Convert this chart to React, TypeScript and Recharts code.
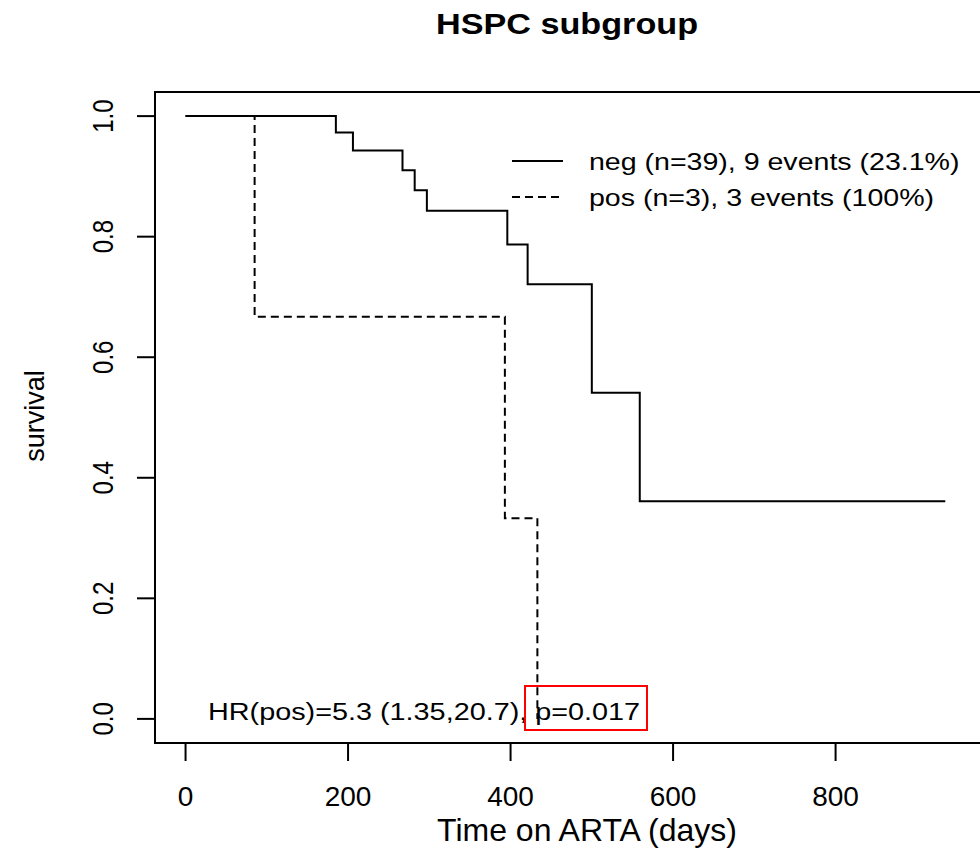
import React from "react";
import { LineChart, Line, XAxis, YAxis, ReferenceArea } from "recharts";

// Kaplan-Meier steps
const negTimes = [0, 185, 206, 267, 282, 297, 396, 421, 500, 559, 935];
const negSurv = [1, 0.973, 0.943, 0.91, 0.877, 0.843, 0.787, 0.721, 0.541, 0.361, 0.361];
const posTimes = [0, 85, 393, 433];
const posSurv = [1, 0.667, 0.333, 0];

const xTicks = [0, 200, 400, 600, 800];
const yTicks = [0, 0.2, 0.4, 0.6, 0.8, 1.0];
const legendLabels = ["neg (n=39), 9 events (23.1%)", "pos (n=3), 3 events (100%)"];
const hrText = "HR(pos)=5.3 (1.35,20.7), p=0.017";

const negData = negTimes.map((t, i) => ({ t, s: negSurv[i] }));
const posData = posTimes.map((t, i) => ({ t, s: posSurv[i] }));

const FONT = "'Liberation Sans', Arial, sans-serif";
const X_DOMAIN: [number, number] = [-37.6, 980.2];
const Y_DOMAIN: [number, number] = [-0.04, 1.04];

const XTick = (props: any) => (
  <text x={props.x} y={806} textAnchor="middle" fontSize={28} fontFamily={FONT} fill="#000">
    {props.payload.value}
  </text>
);

const YTick = (props: any) => (
  <text
    transform={`translate(113, ${props.y}) scale(1.2,1) rotate(-90)`}
    textAnchor="middle"
    fontSize={24}
    fontFamily={FONT}
    fill="#000"
  >
    {Number(props.payload.value).toFixed(1)}
  </text>
);

export default function App() {
  return (
    <div
      style={{
        position: "absolute",
        left: 0,
        top: 0,
        width: 980,
        height: 850,
        overflow: "hidden",
        background: "#fff",
      }}
    >
      <LineChart width={983} height={850} margin={{ top: 92, right: 1, bottom: 0, left: 0 }}>
        <XAxis
          type="number"
          dataKey="t"
          domain={X_DOMAIN}
          allowDataOverflow
          ticks={xTicks}
          tickSize={18}
          axisLine={false}
          tickLine={{ stroke: "#000", strokeWidth: 2 }}
          tick={XTick}
          height={107}
        />
        <YAxis
          type="number"
          dataKey="s"
          domain={Y_DOMAIN}
          allowDataOverflow
          ticks={yTicks}
          tickSize={18}
          axisLine={false}
          tickLine={{ stroke: "#000", strokeWidth: 2 }}
          tick={YTick}
          width={155}
        />
        <ReferenceArea
          x1={X_DOMAIN[0]}
          x2={X_DOMAIN[1]}
          y1={Y_DOMAIN[0]}
          y2={Y_DOMAIN[1]}
          fill="none"
          fillOpacity={0}
          stroke="#000"
          strokeWidth={2}
        />
        <Line
          data={negData}
          dataKey="s"
          type="stepAfter"
          stroke="#000"
          strokeWidth={2}
          dot={false}
          isAnimationActive={false}
        />
        <Line
          data={posData}
          dataKey="s"
          type="stepAfter"
          stroke="#000"
          strokeWidth={2}
          strokeDasharray="8 5"
          dot={false}
          isAnimationActive={false}
        />
      </LineChart>
      <svg
        width={980}
        height={850}
        style={{ position: "absolute", left: 0, top: 0, pointerEvents: "none" }}
        fontFamily={FONT}
      >
        <text
          transform="translate(567, 34) scale(1.14,1)"
          textAnchor="middle"
          fontSize={30}
          fontWeight="bold"
        >
          HSPC subgroup
        </text>
        <line x1={512} x2={563} y1={161} y2={161} stroke="#000" strokeWidth={2} />
        <line x1={512} x2={563} y1={197} y2={197} stroke="#000" strokeWidth={2} strokeDasharray="8 5" />
        <text transform="translate(589, 169.5) scale(1.19,1)" fontSize={24}>
          {legendLabels[0]}
        </text>
        <text transform="translate(589, 205.5) scale(1.19,1)" fontSize={24}>
          {legendLabels[1]}
        </text>
        <text transform="translate(208, 720) scale(1.2,1)" fontSize={24}>
          {hrText}
        </text>
        <rect x={525} y={686} width={122} height={44} fill="none" stroke="#ff0000" strokeWidth={2} />
        <text transform="translate(44, 416) rotate(-90)" textAnchor="middle" fontSize={27}>
          survival
        </text>
        <text x={587} y={841} textAnchor="middle" fontSize={32}>
          Time on ARTA (days)
        </text>
      </svg>
    </div>
  );
}
